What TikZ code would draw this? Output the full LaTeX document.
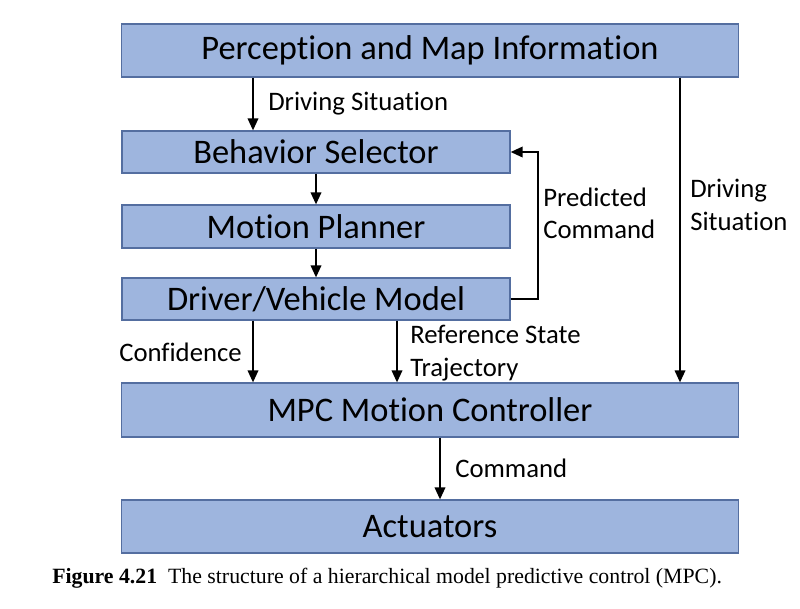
\documentclass[tikz,border=0pt]{standalone}
\usepackage{fontspec}
\setmainfont{Carlito}[Ligatures=NoCommon]
\newfontfamily\capfont{Liberation Serif}
\usetikzlibrary{arrows.meta}
\definecolor{boxfill}{RGB}{158,181,222}
\definecolor{boxline}{RGB}{84,110,160}

\begin{document}
\begin{tikzpicture}[x=0.025cm, y=-0.025cm,
  block/.style={draw=boxline, fill=boxfill, line width=0.8pt, inner sep=0pt, font=\fontsize{24.5}{28}\selectfont},
  lbl/.style={inner sep=0pt, align=left, font=\fontsize{19}{23}\selectfont},
  arr/.style={-{Triangle[length=3mm,width=2.6mm]}, line width=1.5pt}]
\useasboundingbox (0,0) rectangle (800,608);

% blocks
\node[block, minimum width=15.4cm, minimum height=1.325cm] (perc) at (430,50.5) {Perception and Map Information};
\node[block, minimum width=9.7cm, minimum height=1.05cm] (beh) at (316,152) {Behavior Selector};
\node[block, minimum width=9.7cm, minimum height=1.075cm] (mot) at (316,226.5) {Motion Planner};
\node[block, minimum width=9.7cm, minimum height=1.05cm] (drv) at (316,299) {Driver/Vehicle Model};
\node[block, minimum width=15.4cm, minimum height=1.35cm] (mpc) at (430,410) {MPC Motion Controller};
\node[block, minimum width=15.4cm, minimum height=1.325cm] (act) at (430,526.5) {Actuators};

% columns of the arrows
\coordinate (xa) at (253,0);
\coordinate (xc) at (397,0);
\coordinate (xd) at (680,0);
\coordinate (xe) at (440,0);
\coordinate (xf) at (538,0);

% arrows
\path[draw,arr] (xa |- perc.south) -- (xa |- beh.north);
\path[draw,arr] (beh.south) -- (mot.north);
\path[draw,arr] (mot.south) -- (drv.north);
\path[draw,arr] (drv.east) -- (xf |- drv.east) -- (xf |- beh.east) -- (beh.east);
\path[draw,arr] (xd |- perc.south) -- (xd |- mpc.north);
\path[draw,arr] (xa |- drv.south) -- (xa |- mpc.north);
\path[draw,arr] (xc |- drv.south) -- (xc |- mpc.north);
\path[draw,arr] (xe |- mpc.south) -- (xe |- act.north);

% labels
\node[lbl, anchor=west] (ds1) at (268,104) {Driving Situation};
\node[lbl, anchor=west] (pc) at (543,213) {Predicted\\Command};
\node[lbl, anchor=west] (ds2) at (690,205) {Driving\\Situation};
\node[lbl, anchor=east] (conf) at (242,352) {Confidence};
\node[lbl, anchor=west] (ref) at (410,353) {Reference State\\Trajectory};
\node[lbl, anchor=west] (cmd) at (455,468) {Command};

% caption
\node[anchor=west, inner sep=0pt, font=\capfont\fontsize{15.5}{18}\selectfont] (cap) at (52,578)
  {\textbf{Figure 4.21}\enspace The structure of a hierarchical model predictive control (MPC).};
\end{tikzpicture}
\end{document}
